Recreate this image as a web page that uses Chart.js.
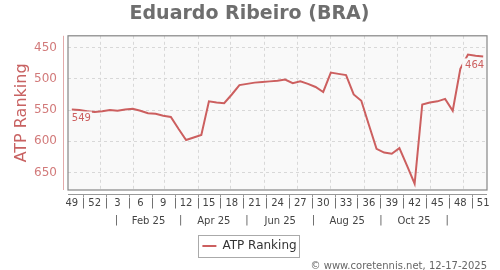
<!DOCTYPE html>
<html>
<head>
<meta charset="utf-8">
<script src="https://cdn.jsdelivr.net/npm/chart.js@4.4.1/dist/chart.umd.min.js"></script>
<style>
  html, body { margin: 0; padding: 0; background: #fff; }
</style>
</head>
<body>
<canvas id="chart" width="500" height="270"></canvas>
<script>
// Eduardo Ribeiro (BRA) - weekly ATP ranking, week 49/2024 to week 51/2025

const weeks = [49, 50, 51, 52, 1, 2, 3, 4, 5, 6, 7, 8, 9, 10, 11, 12, 13, 14, 15, 16,
  17, 18, 19, 20, 21, 22, 23, 24, 25, 26, 27, 28, 29, 30, 31, 32, 33, 34, 35, 36,
  37, 38, 39, 40, 41, 42, 43, 44, 45, 46, 47, 48, 49, 50, 51];
const ranking = [549, 550, 552, 553, 552, 550, 551, 549, 548, 551, 555, 556, 559, 561, 580, 598,
  594, 590, 536, 538, 539, 525, 510, 508, 506, 505, 504, 503, 501, 507, 504, 508,
  513, 521, 490, 492, 494, 525, 535, 574, 612, 618, 620, 611, 639, 668, 541, 538,
  536, 532, 551, 484, 461, 463, 464];
const yTicks = [450, 500, 550, 600, 650];
const monthLabels = ['Feb 25', 'Apr 25', 'Jun 25', 'Aug 25', 'Oct 25'];
const monthSeps = ['2025-01-16', '2025-03-16', '2025-05-16', '2025-07-16', '2025-09-16', '2025-11-16'];
const gridMonths = ['2025-01-01', '2025-02-01', '2025-03-01', '2025-04-01', '2025-05-01', '2025-06-01',
  '2025-07-01', '2025-08-01', '2025-09-01', '2025-10-01', '2025-11-01', '2025-12-01'];
const firstWeek = '2024-12-06';

const FONT = '"DejaVu Sans", Verdana, sans-serif';
const RED = '#cc5f5f';

// date -> fractional week index
const WEEK_MS = 7 * 864e5;
function dateIdx(d) {
  return (Date.parse(d) - Date.parse(firstWeek)) / WEEK_MS;
}

const weekTicks = weeks.map((w, i) => i).filter(i => i % 3 === 0);
const monthSepIdx = monthSeps.map(dateIdx);
const monthLabelIdx = monthLabels.map((m, i) => (monthSepIdx[i] + monthSepIdx[i + 1]) / 2);

function drawTag(ctx, text, x, y, align) {
  ctx.font = '10px ' + FONT;
  const w = ctx.measureText(text).width;
  const left = align === 'right' ? x - w : x;
  ctx.fillStyle = '#f9f9f9';
  ctx.fillRect(left - 3, y - 2, w + 4, 14);
  ctx.fillStyle = RED;
  ctx.textAlign = align;
  ctx.textBaseline = 'top';
  ctx.fillText(text, x, y);
}

const frame = {
  id: 'frame',
  beforeDraw(chart) {
    const { ctx, chartArea: a } = chart;
    ctx.save();
    ctx.fillStyle = '#f9f9f9';
    ctx.fillRect(a.left, a.top, a.right - a.left, a.bottom - a.top);
    ctx.restore();
  },
  afterDatasetsDraw(chart) {
    const ctx = chart.ctx;
    const pts = chart.getDatasetMeta(0).data;
    const last = pts.length - 1;
    ctx.save();
    drawTag(ctx, String(ranking[0]), pts[0].x, pts[0].y + 4, 'left');
    drawTag(ctx, String(ranking[last]), pts[last].x + 1, pts[last].y + 4, 'right');
    ctx.restore();
  },
  afterDraw(chart) {
    const { ctx, chartArea: a } = chart;
    const xs = chart.scales.x, xm = chart.scales.xm;
    ctx.save();
    // plot frame
    ctx.strokeStyle = '#858585';
    ctx.lineWidth = 1.2;
    ctx.strokeRect(a.left, a.top, a.right - a.left, a.bottom - a.top);
    // y axis line
    ctx.strokeStyle = '#e2aaaa';
    ctx.lineWidth = 1;
    ctx.beginPath();
    ctx.moveTo(a.left - 4.5, a.top);
    ctx.lineTo(a.left - 4.5, a.bottom);
    ctx.stroke();
    // x axis line
    const ax = a.bottom + 4.5;
    ctx.strokeStyle = '#999';
    ctx.beginPath();
    ctx.moveTo(a.left, ax);
    ctx.lineTo(a.right, ax);
    ctx.stroke();
    // separators between week labels
    ctx.font = '10px ' + FONT;
    ctx.fillStyle = '#555';
    ctx.textAlign = 'center';
    ctx.textBaseline = 'middle';
    for (let k = 0; k < weekTicks.length - 1; k++) {
      const px = Math.round(xs.getPixelForValue((weekTicks[k] + weekTicks[k + 1]) / 2)) + 0.5;
      ctx.beginPath();
      ctx.moveTo(px, ax);
      ctx.lineTo(px, ax + 3);
      ctx.stroke();
      ctx.fillText('|', px, xs.top + 13);
    }
    monthSepIdx.forEach(v => {
      ctx.fillText('|', xm.getPixelForValue(v), xm.top + 10.5);
    });
    // legend frame
    const hb = chart.legend.legendHitBoxes[0];
    if (hb) {
      ctx.strokeStyle = '#aaa';
      ctx.strokeRect(Math.round(hb.left) - 3.5, Math.round(hb.top) - 4.5, Math.round(hb.width) + 7, hb.height + 10);
    }
    ctx.restore();
  }
};

new Chart(document.getElementById('chart'), {
  type: 'line',
  data: {
    datasets: [{
      label: 'ATP Ranking',
      data: ranking.map((v, i) => ({ x: i, y: v })),
      borderColor: RED,
      backgroundColor: RED,
      borderWidth: 2,
      pointRadius: 0,
      tension: 0,
      fill: false
    }]
  },
  options: {
    responsive: false,
    animation: false,
    layout: { padding: { left: 12, right: 13, top: 0, bottom: 0 } },
    plugins: {
      title: {
        display: true,
        text: 'Eduardo Ribeiro (BRA)',
        color: '#6e6e6e',
        font: { family: FONT, size: 19, weight: 'bold' },
        padding: { top: 3, bottom: 10 }
      },
      subtitle: {
        display: true,
        position: 'bottom',
        align: 'end',
        text: '\u00a9 www.coretennis.net, 12-17-2025',
        color: '#666',
        font: { family: FONT, size: 10, lineHeight: 0.8 },
        padding: { top: 0, bottom: 0 }
      },
      legend: {
        position: 'bottom',
        labels: {
          usePointStyle: true,
          pointStyle: 'line',
          pointStyleWidth: 14,
          color: '#333',
          font: { family: FONT, size: 12 },
          padding: 10
        }
      },
      tooltip: { enabled: false }
    },
    scales: {
      x: {
        type: 'linear',
        position: 'bottom',
        min: -0.5,
        max: 54.5,
        afterBuildTicks: s => { s.ticks = weekTicks.map(v => ({ value: v })); },
        afterFit: s => { s.height = 20; },
        grid: { display: false, drawTicks: false },
        border: { display: false },
        ticks: {
          autoSkip: false, maxRotation: 0, padding: 7.5, color: '#444',
          font: { family: FONT, size: 10 },
          callback: v => weeks[v]
        }
      },
      xg: {
        type: 'linear',
        position: 'bottom',
        min: -0.5,
        max: 54.5,
        afterBuildTicks: s => { s.ticks = gridMonths.map(d => ({ value: dateIdx(d) })); },
        afterFit: s => { s.height = 0; },
        grid: { color: '#d8d8d8', drawTicks: false },
        border: { display: false, dash: [3, 3] },
        ticks: { display: false }
      },
      xm: {
        type: 'linear',
        position: 'bottom',
        min: -0.5,
        max: 54.5,
        afterBuildTicks: s => { s.ticks = monthLabelIdx.map(v => ({ value: v })); },
        afterFit: s => { s.height = 20; },
        grid: { display: false, drawTicks: false },
        border: { display: false },
        ticks: {
          autoSkip: false, maxRotation: 0, padding: 5, color: '#444',
          font: { family: FONT, size: 10 },
          callback: (v, i) => monthLabels[i]
        }
      },
      y: {
        type: 'linear',
        reverse: true,
        min: 431,
        max: 678,
        afterBuildTicks: s => { s.ticks = yTicks.map(v => ({ value: v })); },
        afterFit: s => { s.width = 56; },
        grid: { color: '#d8d8d8', drawTicks: false },
        border: { display: false, dash: [3, 3] },
        ticks: { padding: 11, color: '#d27a7a', font: { family: FONT, size: 12 } },
        title: {
          display: true,
          text: 'ATP Ranking',
          color: '#c86262',
          font: { family: FONT, size: 16 },
          padding: { top: 0, bottom: 0 }
        }
      }
    }
  },
  plugins: [frame]
});
</script>
</body>
</html>
